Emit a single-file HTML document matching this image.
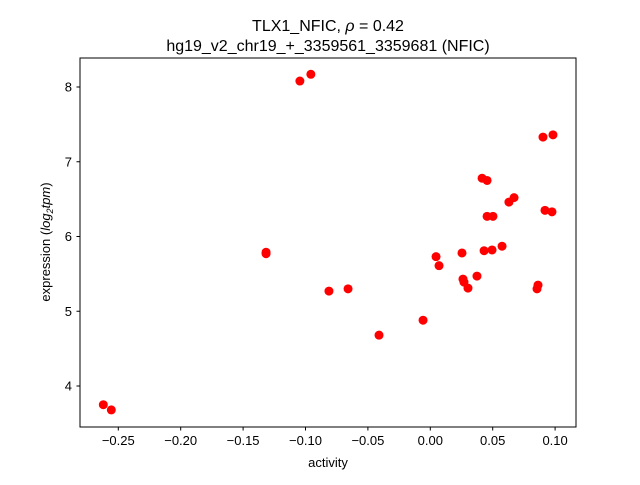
<!DOCTYPE html>
<html><head><meta charset="utf-8"><style>
body{margin:0;background:#fff}
svg{font-family:"Liberation Sans","DejaVu Sans",sans-serif}
</style></head><body>
<svg id="chart" width="640" height="480">
<rect width="640" height="480" fill="#fff"/>
<text x="328" y="31" text-anchor="middle" font-size="16">TLX1_NFIC, <tspan font-style="italic">ρ</tspan> = 0.42</text>
<text x="328" y="51" text-anchor="middle" font-size="16">hg19_v2_chr19_+_3359561_3359681 (NFIC)</text>
<g id="marks"></g>
<rect x="80" y="58" width="496" height="369" fill="none" stroke="#000" stroke-width="1"/>
<g id="xt"></g><g id="yt"></g>
<text x="328" y="467" text-anchor="middle" font-size="13">activity</text>
<text transform="translate(50,242) rotate(-90)" text-anchor="middle" font-size="13">expression (<tspan font-style="italic">log</tspan><tspan font-style="italic" font-size="9" dy="3">2</tspan><tspan font-style="italic" dy="-3">tpm</tspan>)</text>
</svg>
<script>
const xVals=[-0.262,-0.2556,-0.1316,-0.1316,-0.1045,-0.0957,-0.0812,-0.0659,-0.0411,-0.0058,0.0046,0.0070,0.0254,0.0262,0.0270,0.0302,0.0374,0.0415,0.0455,0.0431,0.0455,0.0495,0.0502,0.0575,0.0630,0.0671,0.0855,0.0863,0.0903,0.0983,0.0919,0.0975];
const yVals=[3.75,3.68,5.79,5.77,8.08,8.17,5.27,5.30,4.68,4.88,5.73,5.61,5.78,5.43,5.39,5.31,5.47,6.78,6.75,5.81,6.27,5.82,6.27,5.87,6.46,6.52,5.30,5.35,7.33,7.36,6.35,6.33];
const xTicks=[-0.25,-0.20,-0.15,-0.10,-0.05,0.00,0.05,0.10];
const xLabels=["−0.25","−0.20","−0.15","−0.10","−0.05","0.00","0.05","0.10"];
const yTicks=[4,5,6,7,8];
const yLabels=["4","5","6","7","8"];
const X=v=>430.3+v*1248, Y=v=>386-(v-4)*74.75;
const NS="http://www.w3.org/2000/svg";
const mk=(t,a,p)=>{const e=document.createElementNS(NS,t);for(const k in a)e.setAttribute(k,a[k]);p.appendChild(e);return e;};
const m=document.getElementById('marks');
xVals.forEach((x,i)=>{const c=mk('circle',{cx:X(x),cy:Y(yVals[i]),r:4.5,fill:'#ff0000'},m);

});
const xt=document.getElementById('xt');
xTicks.forEach((v,i)=>{const g=mk('g',{},xt);


mk('line',{x1:X(v),x2:X(v),y1:427,y2:430.5,stroke:'#000'},g);
const t=mk('text',{x:X(v),y:445,'text-anchor':'middle','font-size':13},g);t.textContent=xLabels[i];});
const yt=document.getElementById('yt');
yTicks.forEach((v,i)=>{const g=mk('g',{},yt);


mk('line',{x1:76.5,x2:80,y1:Y(v),y2:Y(v),stroke:'#000'},g);
const t=mk('text',{x:72,y:Y(v)+4.5,'text-anchor':'end','font-size':13},g);t.textContent=yLabels[i];});
</script>
</body></html>
